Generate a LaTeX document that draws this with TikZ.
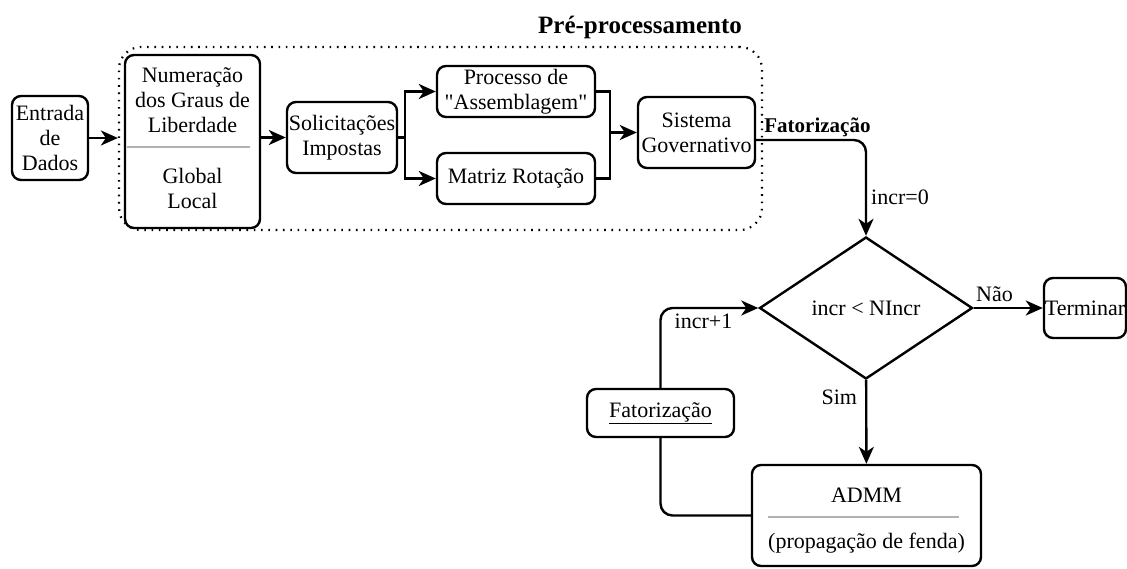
\documentclass[tikz,border=0pt]{standalone}
\usepackage{fontspec}
\setmainfont{Liberation Serif}
\usetikzlibrary{arrows.meta,shapes.geometric}

\begin{document}
\begin{tikzpicture}[x=1pt, y=-1pt,
  font=\fontsize{22}{25}\selectfont,
  caixa/.style={draw, line width=2.4pt, rounded corners=9pt, align=center, inner sep=0pt},
  texto/.style={align=center, inner sep=0pt},
  linha/.style={line width=2.4pt},
  seta/.style={line width=2.4pt, -{Stealth[length=17pt, width=15pt, inset=5pt]}},
  divisor/.style={draw=black!30, line width=1.4pt},
  negrito/.style={font=\fontsize{21}{25}\selectfont\bfseries}]

  \useasboundingbox (0,0) rectangle (1127,568);

  \node[caixa, minimum width=76pt, minimum height=84pt] (entrada) at (50,138) {Entrada\\de\\Dados};

  %% pre-processamento
  \node[draw, line width=2.2pt, dash pattern=on 1.6pt off 5.7pt, rounded corners=22pt,
        minimum width=643pt, minimum height=183pt] (pre) at (440.5,138.5) {};
  \node[font=\fontsize{25}{30}\selectfont\bfseries] (titulo) at (640,27) {Pré-processamento};

  \node[caixa, minimum width=135pt, minimum height=173pt] (numer) at (192.5,141.5) {};
  \node[texto] (graus) at (192.5,100) {Numeração\\dos Graus de\\Liberdade};
  \node[texto] (tipo) at (192.5,188) {Global\\Local};
  \draw[divisor] (127,147) -- (250,147);

  \node[caixa, minimum width=110pt, minimum height=71pt] (solic) at (342,137.5) {Solicitações\\Impostas};
  \node[caixa, minimum width=158pt, minimum height=51pt] (processo) at (516,91.5) {Processo de\\\textquotedbl Assemblagem\textquotedbl};
  \node[caixa, minimum width=158pt, minimum height=51pt] (matriz) at (516,178.5) {Matriz Rotação};
  \node[caixa, minimum width=117pt, minimum height=71pt] (sistema) at (696.5,132.5) {Sistema\\Governativo};

  %% ciclo
  \node[draw, diamond, line width=2.4pt, minimum width=213pt, minimum height=142pt, inner sep=0pt] (decisao) at (866,308) {incr < NIncr};
  \node[caixa, minimum width=82pt, minimum height=60pt] (terminar) at (1085,308) {Terminar};
  \node[caixa, minimum width=229pt, minimum height=101pt] (admm) at (866.5,515.5) {};
  \node[texto] (admmtit) at (866.5,495) {ADMM};
  \node[texto] (fenda) at (866.5,543) {(propagação de fenda)};
  \draw[divisor] (768,517) -- (959,517);
  \node[caixa, minimum width=147pt, minimum height=48pt] (fator) at (660.5,413) {\underline{Fatorização}};

  \coordinate (split) at (405,137.5);
  \coordinate (junta) at (610,132.5);

  \draw[seta] (entrada) -- (entrada -| pre.west);
  \draw[seta] (numer.east |- solic) -- (solic); %% numer->solic
  \draw[linha] (solic) -- (split);
  \draw[seta] (split) |- (processo);
  \draw[seta] (split) |- (matriz);
  \draw[linha] (processo) -| (junta);
  \draw[linha] (matriz) -| (junta);
  \draw[seta] (junta) -- (sistema); %% ->sistema

  \draw[seta, rounded corners=12pt] ([yshift=-7.5pt]sistema.east)
    node[negrito, anchor=south west, inner sep=2pt, xshift=5pt] {Fatorização}
    -| node[pos=0.8, right, inner sep=4pt] {incr=0} (decisao);
  \draw[seta] (decisao) -- node[pos=0.3, above, inner sep=5pt] {Não} (terminar);
  \draw[seta] (decisao) -- node[pos=0.2, left, inner sep=8pt] {Sim} (admm);
  \draw[linha, rounded corners=12pt] (admm) -| (fator); %% admm->fator
  \draw[seta, rounded corners=12pt] (fator) |- node[pos=0.72, below, inner sep=5pt] {incr+1} (decisao);
\end{tikzpicture}
\end{document}
